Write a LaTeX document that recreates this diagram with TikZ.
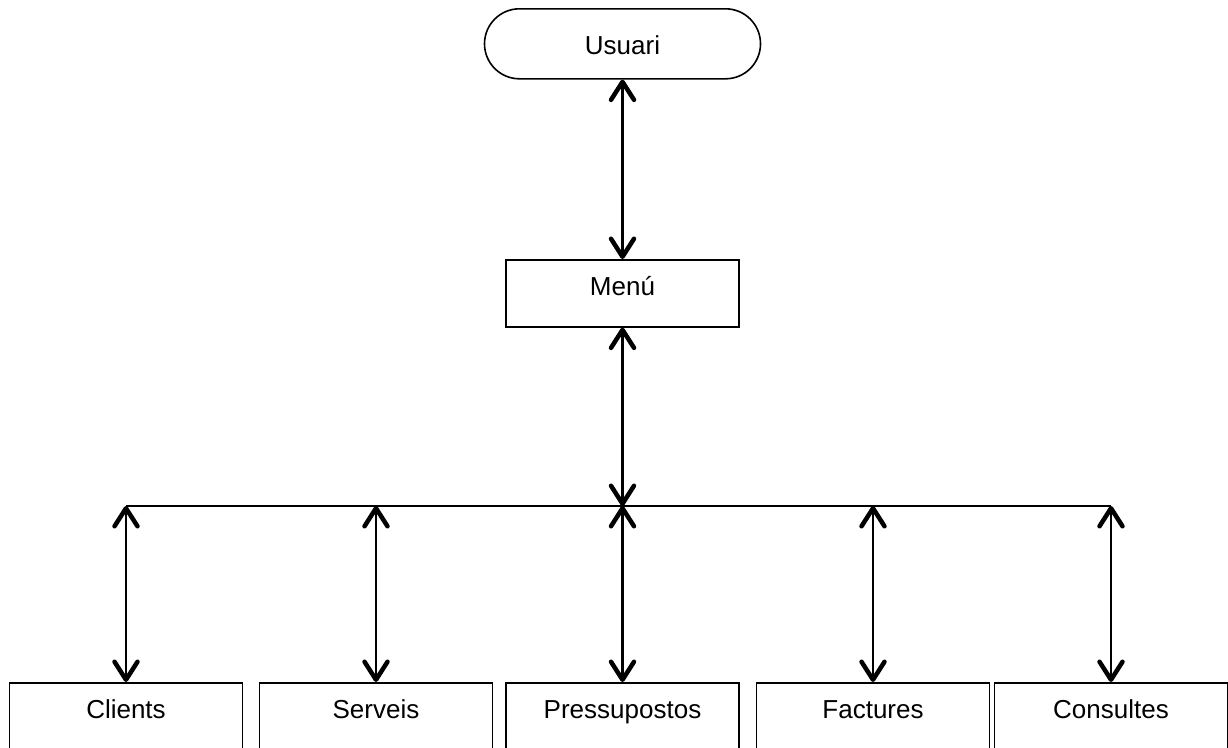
\documentclass[tikz,border=0pt]{standalone}
\usepackage{fontspec}
\setmainfont{Liberation Sans}
\usetikzlibrary{arrows.meta}
\begin{document}
\begin{tikzpicture}[x=1pt,y=1pt,
  lbl/.style={font=\fontsize{26}{30}\selectfont},
  topbox/.style={draw, line width=1.6pt, lbl, inner xsep=0pt, inner ysep=0pt, anchor=north},
  leafbox/.style={draw, line width=1.5pt, lbl, inner xsep=0pt, inner ysep=0pt, anchor=north,
     minimum width=233pt, text height=35.5pt, text depth=50pt},
  tip/.style={Straight Barb[length=18pt,width=23pt,line width=4.5pt,round]},
  dbl/.style={line width=2.5pt, {Straight Barb[length=18pt,width=23pt,line width=4.5pt,round]}-{Straight Barb[length=18pt,width=23pt,line width=4.5pt,round]}},
  bus/.style={line width=2.5pt}
]
\useasboundingbox (0,0) rectangle (1228,-747);
\clip (0,0) rectangle (1228,-747);
\node[topbox, rounded corners=35pt, minimum width=276pt, text height=46pt, text depth=24pt] (usuari) at (622.5,-8) {Usuari};
\node[topbox, minimum width=233pt, text height=36pt, text depth=31pt] (menu) at (622.5,-259) {Menú};
\node[leafbox] (clients) at (126,-682) {Clients};
\node[leafbox] (serveis) at (376,-682) {Serveis};
\node[leafbox] (press) at (622.5,-682) {Pressupostos};
\node[leafbox] (fact) at (873,-682) {Factures};
\node[leafbox] (cons) at (1111,-682) {Consultes};
\coordinate (b0) at (622.5,-506);
\coordinate (b1) at (126,-506);
\coordinate (b2) at (376,-506);
\coordinate (b3) at (622.5,-506);
\coordinate (b4) at (873,-506);
\coordinate (b5) at (1111,-506);
\draw[bus] (b1) -- (b5);
\draw[dbl] (usuari.south) -- (menu.north);
\draw[dbl] (menu.south) -- (b0);
\draw[dbl] (b1) -- (clients.north);
\draw[dbl] (b2) -- (serveis.north);
\draw[dbl] (b3) -- (press.north);
\draw[dbl] (b4) -- (fact.north);
\draw[dbl] (b5) -- (cons.north);
\end{tikzpicture}
\end{document}
